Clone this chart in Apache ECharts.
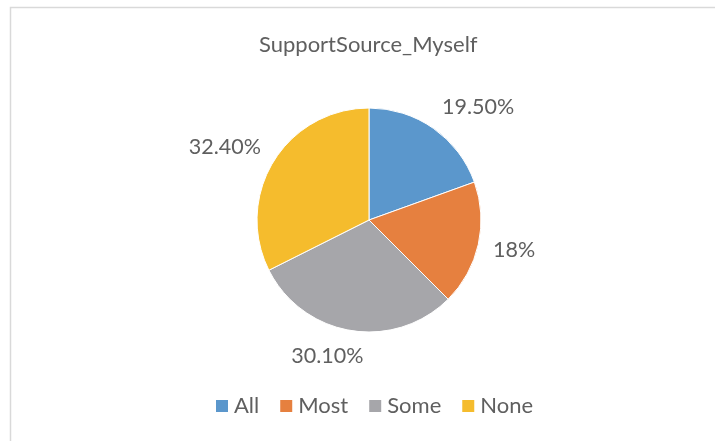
<!DOCTYPE html>
<html>
<head>
<meta charset="utf-8">
<script src="https://cdn.jsdelivr.net/npm/echarts@6/dist/echarts.min.js"></script>
<style>
  html, body { margin: 0; padding: 0; background: #ffffff; }
  #chart { width: 715px; height: 441px; }
</style>
</head>
<body>
<div id="chart"></div>
<script>
// Share of respondents by how much support comes from themselves
const chartTitle = 'SupportSource_Myself';
const categories = ['All', 'Most', 'Some', 'None'];
const shares = [19.5, 18, 30.1, 32.4];
const shareLabels = ['19.50%', '18%', '30.10%', '32.40%'];
const sliceColors = ['#5b97cc', '#e6803f', '#a6a6aa', '#f5bc2d'];

const FONT = 'Lato, "Open Sans", sans-serif';
const TEXT = '#5f5f5f';

const PIE_CX = 369;
const PIE_CY = 220;
const PIE_R = 112;
const LABEL_GAP = 15;

// Mid-angle of each slice, clockwise from 12 o'clock (radians)
const total = shares.reduce((a, b) => a + b, 0);
const midAngles = [];
let acc = 0;
shares.forEach((v) => {
  midAngles.push(((acc + v / 2) / total) * Math.PI * 2);
  acc += v;
});

// Outside-end placement: the label box sits just beyond the rim,
// pushed sideways/up/down by the direction of the slice.
function placeLabel(params) {
  const a = midAngles[params.dataIndex];
  const s = Math.sin(a);
  const c = Math.cos(a);
  const R = PIE_R + LABEL_GAP;
  const w = params.labelRect.width;
  const h = params.labelRect.height;
  const side = Math.max(-1, Math.min(1, s * 3.7));
  return {
    x: PIE_CX + R * s + (w / 2) * side,
    y: PIE_CY - R * c - (h / 2) * c,
    align: 'center',
    verticalAlign: 'middle'
  };
}

const chart = echarts.init(document.getElementById('chart'), null, { renderer: 'canvas' });

chart.setOption({
  animation: false,
  backgroundColor: '#ffffff',
  color: sliceColors,
  graphic: [{
    type: 'rect',
    left: 8, top: 5,
    shape: { width: 720, height: 450 },
    style: { fill: 'none', stroke: '#d9d9d9', lineWidth: 1.5 },
    silent: true
  }],
  title: {
    text: chartTitle,
    left: 254,
    top: 29,
    textStyle: { fontFamily: FONT, fontSize: 22, fontWeight: 'normal', color: TEXT }
  },
  legend: {
    data: categories,
    top: 390,
    left: 209,
    icon: 'rect',
    itemWidth: 14,
    itemHeight: 14,
    itemGap: 19,
    textStyle: { fontFamily: FONT, fontSize: 22, color: TEXT, padding: [0, 0, 0, 0] }
  },
  series: [{
    type: 'pie',
    center: [PIE_CX, PIE_CY],
    radius: PIE_R,
    startAngle: 90,
    clockwise: true,
    avoidLabelOverlap: false,
    data: categories.map((name, i) => ({ name, value: shares[i] })),
    itemStyle: { borderColor: '#ffffff', borderWidth: 1 },
    label: {
      show: true,
      position: 'outside',
      formatter: (p) => shareLabels[p.dataIndex],
      fontFamily: FONT,
      fontSize: 21.5,
      color: TEXT
    },
    labelLine: { show: false },
    labelLayout: placeLabel,
    emphasis: { disabled: true }
  }]
});
</script>
</body>
</html>
